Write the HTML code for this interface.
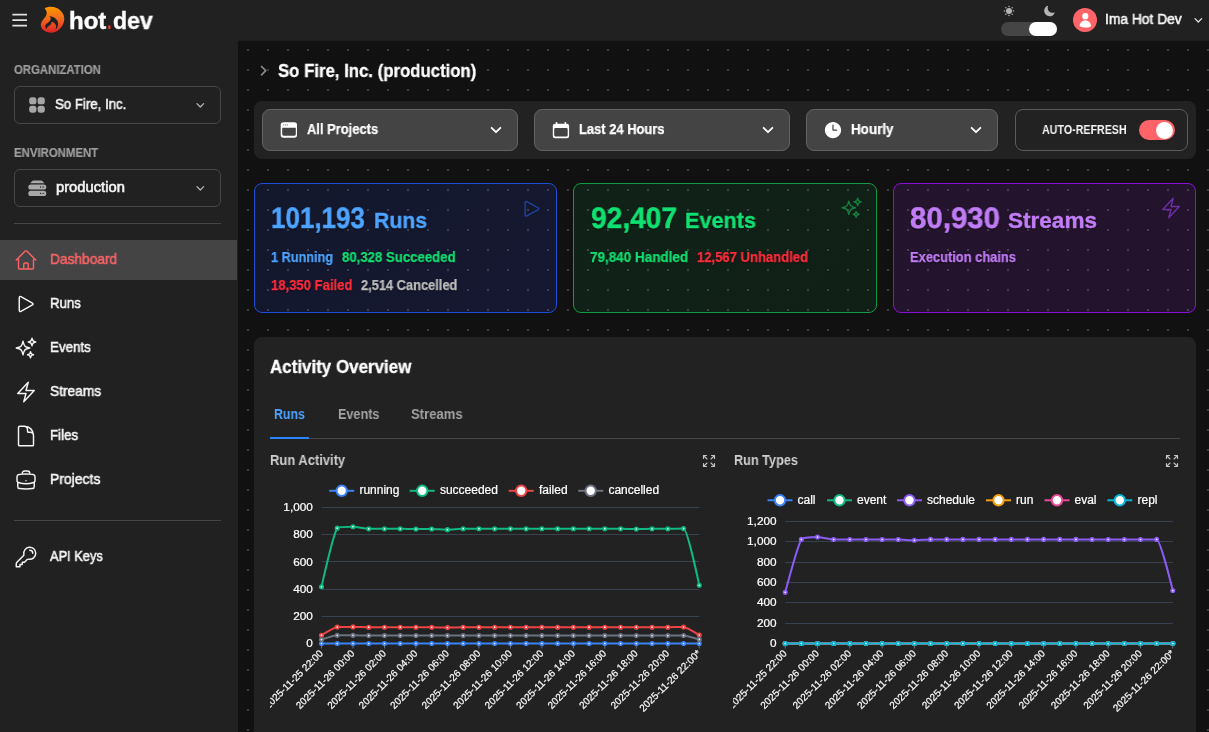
<!DOCTYPE html>
<html><head><meta charset="utf-8"><title>hot.dev</title>
<style>
html,body{margin:0;padding:0;background:#111111;}
body{width:1209px;height:732px;overflow:hidden;position:relative;font-family:"Liberation Sans",sans-serif;}
.a{position:absolute;display:block;}
.t{position:absolute;display:block;white-space:nowrap;line-height:1;transform-origin:0 0;font-weight:400;will-change:transform;}
svg text{font-family:"Liberation Sans",sans-serif;stroke:#ffffff;stroke-width:0.22px;}
</style></head><body>
<div class="a" style="left:0px;top:0px;width:1209px;height:732px;background:#111111;"></div>
<div class="a" style="left:238px;top:40px;width:971px;height:692px;background-color:#111111;background-image:radial-gradient(circle at 10px 10px,#3e3e3e 1px,rgba(62,62,62,0) 1.5px);background-size:20px 20px;"></div>
<div class="a" style="left:238px;top:40px;width:971px;height:1px;background:#1c1c1c;"></div>
<div class="a" style="left:0px;top:0px;width:1209px;height:40px;background:#212121;"></div>
<div class="a" style="left:0px;top:40px;width:238px;height:692px;background:#212121;"></div>
<svg class="a" style="left:0px;top:0px;" width="40" height="40" viewBox="0 0 40 40"><path d="M12.4 14.6H27M12.4 20.1H27M12.4 25.6H27" stroke="#e0e0e0" stroke-width="1.85" fill="none"/></svg>
<svg class="a" style="left:36px;top:2px;" width="36" height="36" viewBox="0 0 732 732"><defs><linearGradient id="fg" x1="0" y1="0" x2="0" y2="1"><stop offset="0" stop-color="#ff9800"/><stop offset="0.5" stop-color="#f2651f"/><stop offset="1" stop-color="#dc2127"/></linearGradient></defs>
<path d="M178 128 C230 95 330 85 420 120 C510 160 575 250 575 340 C575 450 500 560 400 605 C330 635 250 630 180 590 C120 555 90 500 98 445 C108 390 165 340 200 290 C225 250 225 200 195 160 C188 150 180 140 178 128 Z" fill="url(#fg)"/>
<path d="M268 290 C330 290 400 320 435 380 C465 440 445 520 398 560 C420 500 410 450 370 425 C350 410 325 405 305 410 C320 425 320 440 300 460 C275 485 235 500 212 548 C185 510 180 475 200 455 C235 425 290 395 300 345 C302 325 290 305 268 290 Z" fill="#212121"/></svg>
<span class="t" style="left:69.20px;top:10px;font-size:23.4px;color:#ffffff;font-weight:700;transform:scaleX(1.0251);-webkit-text-stroke:0.4px #ffffff;">hot</span>
<span class="t" style="left:107.30px;top:10px;font-size:23.4px;color:#ef3b2d;font-weight:700;transform:scaleX(0.7071);">.</span>
<span class="t" style="left:112.60px;top:10px;font-size:23.4px;color:#ffffff;font-weight:700;transform:scaleX(0.9871);-webkit-text-stroke:0.4px #ffffff;">dev</span>
<svg class="a" style="left:1002.5px;top:4.9px;" width="12" height="12" viewBox="0 0 12 12"><circle cx="6" cy="6" r="3.0" fill="#b4b4b4"/><circle cx="10.50" cy="6.00" r="0.8" fill="#a8a8a8"/><circle cx="9.18" cy="9.18" r="0.8" fill="#a8a8a8"/><circle cx="6.00" cy="10.50" r="0.8" fill="#a8a8a8"/><circle cx="2.82" cy="9.18" r="0.8" fill="#a8a8a8"/><circle cx="1.50" cy="6.00" r="0.8" fill="#a8a8a8"/><circle cx="2.82" cy="2.82" r="0.8" fill="#a8a8a8"/><circle cx="6.00" cy="1.50" r="0.8" fill="#a8a8a8"/><circle cx="9.18" cy="2.82" r="0.8" fill="#a8a8a8"/></svg>
<svg class="a" style="left:1043.3px;top:5.0px;" width="12.4" height="12.4" viewBox="0 0 24 24"><path d="M9.528 1.718a.75.75 0 01.162.819A8.97 8.97 0 009 6a9 9 0 009 9 8.97 8.97 0 003.463-.69.75.75 0 01.981.98 10.503 10.503 0 01-9.694 6.46c-5.799 0-10.5-4.701-10.5-10.5 0-4.368 2.667-8.112 6.46-9.694a.75.75 0 01.818.162z" fill="#b5b5b5" fill-rule="evenodd" clip-rule="evenodd"/></svg>
<div class="a" style="left:1001px;top:22px;width:56px;height:14px;background:#454545;border-radius:7px;"></div>
<div class="a" style="left:1028.6px;top:22px;width:28.4px;height:14px;background:#ffffff;border-radius:7px;"></div>
<div class="a" style="left:1073px;top:8px;width:24px;height:24px;background:#ff6568;border-radius:12px;"></div>
<svg class="a" style="left:1076.7px;top:11.5px;" width="16.6" height="16.6" viewBox="0 0 24 24"><path d="M7.5 6a4.5 4.5 0 119 0 4.5 4.5 0 01-9 0zM3.751 20.105a8.25 8.25 0 0116.498 0 .75.75 0 01-.437.695A18.683 18.683 0 0112 22.5c-2.786 0-5.433-.608-7.812-1.7a.75.75 0 01-.437-.695z" fill="#ffffff" fill-rule="evenodd" clip-rule="evenodd"/></svg>
<span class="t" style="left:1105.00px;top:12px;font-size:14px;color:#f5f5f5;transform:scaleX(0.9859);-webkit-text-stroke:0.55px #f5f5f5;">Ima Hot Dev</span>
<svg class="a" style="left:1192.5px;top:15.3px;" width="10.6" height="10.6" viewBox="0 0 24 24"><path d="M19.5 8.25l-7.5 7.5-7.5-7.5" fill="none" stroke="#e4e4e4" stroke-width="3.0" stroke-linecap="round" stroke-linejoin="round"/></svg>
<span class="t" style="left:14.30px;top:64px;font-size:12px;color:#9e9e9e;font-weight:700;transform:scaleX(0.9470);-webkit-text-stroke:0.2px #9e9e9e;">ORGANIZATION</span>
<div class="a" style="left:14px;top:86px;width:207px;height:38px;border:1px solid #474747;border-radius:6px;box-sizing:border-box;"></div>
<svg class="a" style="left:20px;top:90px;" width="40" height="30" viewBox="20 90 40 30"><rect x="29.2" y="97.3" width="7.2" height="7.0" rx="2.6" fill="#a6a6a6"/><rect x="29.2" y="105.7" width="7.2" height="7.0" rx="2.6" fill="#a6a6a6"/><rect x="37.6" y="97.3" width="7.2" height="7.0" rx="2.6" fill="#a6a6a6"/><rect x="37.6" y="105.7" width="7.2" height="7.0" rx="2.6" fill="#a6a6a6"/></svg>
<span class="t" style="left:55.00px;top:97px;font-size:14px;color:#f5f5f5;transform:scaleX(0.9460);-webkit-text-stroke:0.55px #f5f5f5;">So Fire, Inc.</span>
<svg class="a" style="left:194.75px;top:100.3px;" width="10.6" height="10.6" viewBox="0 0 24 24"><path d="M19.5 8.25l-7.5 7.5-7.5-7.5" fill="none" stroke="#b4b4b4" stroke-width="3.0" stroke-linecap="round" stroke-linejoin="round"/></svg>
<span class="t" style="left:14.30px;top:147px;font-size:12px;color:#9e9e9e;font-weight:700;transform:scaleX(0.9485);-webkit-text-stroke:0.2px #9e9e9e;">ENVIRONMENT</span>
<div class="a" style="left:14px;top:169px;width:207px;height:38px;border:1px solid #474747;border-radius:6px;box-sizing:border-box;"></div>
<svg class="a" style="left:26.7px;top:177.6px;" width="20.6" height="20.6" viewBox="0 0 24 24"><path d="M5.507 4.048A3 3 0 017.785 3h8.43a3 3 0 012.278 1.048l1.722 2.008A4.533 4.533 0 0019.5 6h-15c-.243 0-.482.02-.715.056l1.722-2.008z" fill="#a8a8a8" fill-rule="evenodd" clip-rule="evenodd"/><path d="M1.5 10.5a3 3 0 013-3h15a3 3 0 110 6h-15a3 3 0 01-3-3zm15 0a.75.75 0 11-1.5 0 .75.75 0 011.5 0zm2.25.75a.75.75 0 100-1.5.75.75 0 000 1.5zM4.5 15a3 3 0 100 6h15a3 3 0 100-6h-15zm11.25 3.75a.75.75 0 100-1.5.75.75 0 000 1.5zM19.5 18a.75.75 0 11-1.5 0 .75.75 0 011.5 0z" fill="#a8a8a8" fill-rule="evenodd" clip-rule="evenodd"/></svg>
<span class="t" style="left:55.50px;top:180px;font-size:14px;color:#f5f5f5;transform:scaleX(1.0538);-webkit-text-stroke:0.55px #f5f5f5;">production</span>
<svg class="a" style="left:194.75px;top:183.3px;" width="10.6" height="10.6" viewBox="0 0 24 24"><path d="M19.5 8.25l-7.5 7.5-7.5-7.5" fill="none" stroke="#b4b4b4" stroke-width="3.0" stroke-linecap="round" stroke-linejoin="round"/></svg>
<div class="a" style="left:14px;top:223px;width:207px;height:1px;background:#454545;"></div>
<div class="a" style="left:0px;top:240px;width:237px;height:40px;background:#444444;"></div>
<svg class="a" style="left:13.7px;top:248.0px;" width="24" height="24" viewBox="0 0 24 24"><path d="M2.25 12l8.954-8.955c.44-.439 1.152-.439 1.591 0L21.75 12M4.5 9.75v10.125c0 .621.504 1.125 1.125 1.125H9.75v-4.875c0-.621.504-1.125 1.125-1.125h2.25c.621 0 1.125.504 1.125 1.125V21h4.125c.621 0 1.125-.504 1.125-1.125V9.75M8.25 21h8.25" fill="none" stroke="#f86466" stroke-width="1.45" stroke-linecap="round" stroke-linejoin="round"/></svg>
<span class="t" style="left:50.30px;top:252px;font-size:14.5px;color:#f86466;transform:scaleX(0.9474);-webkit-text-stroke:0.55px #f86466;">Dashboard</span>
<svg class="a" style="left:13.7px;top:292.0px;" width="24" height="24" viewBox="0 0 24 24"><path d="M5.25 5.653c0-.856.917-1.398 1.667-.986l11.54 6.348a1.125 1.125 0 010 1.971l-11.54 6.347a1.125 1.125 0 01-1.667-.985V5.653z" fill="none" stroke="#f5f5f5" stroke-width="1.45" stroke-linecap="round" stroke-linejoin="round"/></svg>
<span class="t" style="left:50.30px;top:296px;font-size:14.5px;color:#f5f5f5;transform:scaleX(0.9130);-webkit-text-stroke:0.55px #f5f5f5;">Runs</span>
<svg class="a" style="left:13.7px;top:336.1px;" width="24" height="24" viewBox="0 0 24 24"><path d="M9.813 15.904L9 18.75l-.813-2.846a4.5 4.5 0 00-3.09-3.09L2.25 12l2.846-.813a4.5 4.5 0 003.09-3.09L9 5.25l.813 2.846a4.5 4.5 0 003.09 3.09L15.75 12l-2.846.813a4.5 4.5 0 00-3.09 3.09zM18.259 8.715L18 9.75l-.259-1.035a3.375 3.375 0 00-2.455-2.456L14.25 6l1.036-.259a3.375 3.375 0 002.455-2.456L18 2.25l.259 1.035a3.375 3.375 0 002.456 2.456L21.75 6l-1.035.259a3.375 3.375 0 00-2.456 2.456zM16.894 20.567L16.5 21.75l-.394-1.183a2.25 2.25 0 00-1.423-1.423L13.5 18.75l1.183-.394a2.25 2.25 0 001.423-1.423l.394-1.183.394 1.183a2.25 2.25 0 001.423 1.423l1.183.394-1.183.394a2.25 2.25 0 00-1.423 1.423z" fill="none" stroke="#f5f5f5" stroke-width="1.45" stroke-linecap="round" stroke-linejoin="round"/></svg>
<span class="t" style="left:50.30px;top:340px;font-size:14.5px;color:#f5f5f5;transform:scaleX(0.9204);-webkit-text-stroke:0.55px #f5f5f5;">Events</span>
<svg class="a" style="left:13.7px;top:380.0px;" width="24" height="24" viewBox="0 0 24 24"><path d="M3.75 13.5l10.5-11.25L12 10.5h8.25L9.75 21.75 12 13.5H3.75z" fill="none" stroke="#f5f5f5" stroke-width="1.45" stroke-linecap="round" stroke-linejoin="round"/></svg>
<span class="t" style="left:50.30px;top:384px;font-size:14.5px;color:#f5f5f5;transform:scaleX(0.9466);-webkit-text-stroke:0.55px #f5f5f5;">Streams</span>
<svg class="a" style="left:13.7px;top:424.0px;" width="24" height="24" viewBox="0 0 24 24"><path d="M19.5 14.25v-2.625a3.375 3.375 0 00-3.375-3.375h-1.5A1.125 1.125 0 0113.5 7.125v-1.5a3.375 3.375 0 00-3.375-3.375H8.25m2.25 0H5.625c-.621 0-1.125.504-1.125 1.125v17.25c0 .621.504 1.125 1.125 1.125h12.75c.621 0 1.125-.504 1.125-1.125V11.25a9 9 0 00-9-9z" fill="none" stroke="#f5f5f5" stroke-width="1.45" stroke-linecap="round" stroke-linejoin="round"/></svg>
<span class="t" style="left:50.30px;top:428px;font-size:14.5px;color:#f5f5f5;transform:scaleX(0.9213);-webkit-text-stroke:0.55px #f5f5f5;">Files</span>
<svg class="a" style="left:13.7px;top:467.8px;" width="24" height="24" viewBox="0 0 24 24"><path d="M20.25 14.15v4.25c0 1.094-.787 2.036-1.872 2.18-2.087.277-4.216.42-6.378.42s-4.291-.143-6.378-.42c-1.085-.144-1.872-1.086-1.872-2.18v-4.25m16.5 0a2.18 2.18 0 00.75-1.661V8.706c0-1.081-.768-2.015-1.837-2.175a48.114 48.114 0 00-3.413-.387m4.5 8.006c-.194.165-.42.295-.673.38A23.978 23.978 0 0112 15.75c-2.648 0-5.195-.429-7.577-1.22a2.016 2.016 0 01-.673-.38m0 0A2.18 2.18 0 013 12.489V8.706c0-1.081.768-2.015 1.837-2.175a48.111 48.111 0 013.413-.387m7.5 0V5.25A2.25 2.25 0 0013.5 3h-3a2.25 2.25 0 00-2.25 2.25v.894m7.5 0a48.667 48.667 0 00-7.5 0M12 12.75h.008v.008H12v-.008z" fill="none" stroke="#f5f5f5" stroke-width="1.45" stroke-linecap="round" stroke-linejoin="round"/></svg>
<span class="t" style="left:50.30px;top:472px;font-size:14.5px;color:#f5f5f5;transform:scaleX(0.9623);-webkit-text-stroke:0.55px #f5f5f5;">Projects</span>
<svg class="a" style="left:13.7px;top:544.8px;" width="24" height="24" viewBox="0 0 24 24"><path d="M15.75 5.25a3 3 0 013 3m3 0a6 6 0 01-7.029 5.912c-.563-.097-1.159.026-1.563.43L10.5 17.25H8.25v2.25H6v2.25H2.25v-2.818c0-.597.237-1.17.659-1.591l6.499-6.499c.404-.404.527-1 .43-1.563A6 6 0 1121.75 8.25z" fill="none" stroke="#f5f5f5" stroke-width="1.45" stroke-linecap="round" stroke-linejoin="round"/></svg>
<span class="t" style="left:50.30px;top:549px;font-size:14.5px;color:#f5f5f5;transform:scaleX(0.8837);-webkit-text-stroke:0.55px #f5f5f5;">API Keys</span>
<div class="a" style="left:14px;top:520px;width:207px;height:1px;background:#454545;"></div>
<svg class="a" style="left:257.25px;top:64.3px;" width="13.3" height="13.3" viewBox="0 0 24 24"><path d="M8.25 4.5l7.5 7.5-7.5 7.5" fill="none" stroke="#8a8a8a" stroke-width="3.0" stroke-linecap="round" stroke-linejoin="round"/></svg>
<span class="t" style="left:278.20px;top:63px;font-size:17.8px;color:#ffffff;font-weight:700;transform:scaleX(0.9424);-webkit-text-stroke:0.3px #ffffff;">So Fire, Inc. (production)</span>
<div class="a" style="left:254px;top:101px;width:942px;height:58px;background:#222222;border-radius:8px;"></div>
<div class="a" style="left:262px;top:109px;width:256px;height:42px;background:#444444;border:1px solid #636363;border-radius:8px;box-sizing:border-box;"></div>
<span class="t" style="left:307.00px;top:122px;font-size:14px;color:#ffffff;font-weight:700;transform:scaleX(0.9243);-webkit-text-stroke:0.25px #ffffff;">All Projects</span>
<svg class="a" style="left:489.4px;top:122.6px;" width="14" height="14" viewBox="0 0 24 24"><path d="M19.5 8.25l-7.5 7.5-7.5-7.5" fill="none" stroke="#ffffff" stroke-width="3.1" stroke-linecap="round" stroke-linejoin="round"/></svg>
<svg class="a" style="left:272px;top:115px;" width="40" height="30" viewBox="272 115 40 30"><path fill-rule="evenodd" fill="#fff" d="M283.3 122.3 h11.1 a2.6 2.6 0 0 1 2.6 2.6 v10.2 a2.6 2.6 0 0 1 -2.6 2.6 h-11.1 a2.6 2.6 0 0 1 -2.6 -2.6 v-10.2 a2.6 2.6 0 0 1 2.6 -2.6 z M282.2 127.8 v6.5 a1.4 1.4 0 0 0 1.4 1.4 h10.8 a1.4 1.4 0 0 0 1.4 -1.4 v-6.5 z"/><rect x="283.2" y="124.3" width="1.1" height="1.3" fill="#9a9a9a"/><rect x="284.9" y="124.3" width="1.1" height="1.3" fill="#9a9a9a"/><rect x="286.6" y="124.3" width="1.4" height="1.3" fill="#9a9a9a"/></svg>
<div class="a" style="left:534px;top:109px;width:256px;height:42px;background:#444444;border:1px solid #636363;border-radius:8px;box-sizing:border-box;"></div>
<span class="t" style="left:579.00px;top:122px;font-size:14px;color:#ffffff;font-weight:700;transform:scaleX(0.9235);-webkit-text-stroke:0.25px #ffffff;">Last 24 Hours</span>
<svg class="a" style="left:761.4px;top:122.6px;" width="14" height="14" viewBox="0 0 24 24"><path d="M19.5 8.25l-7.5 7.5-7.5-7.5" fill="none" stroke="#ffffff" stroke-width="3.1" stroke-linecap="round" stroke-linejoin="round"/></svg>
<svg class="a" style="left:545px;top:115px;" width="40" height="30" viewBox="545 115 40 30"><path fill-rule="evenodd" fill="#fff" d="M555 123.8 h11.9 a2.2 2.2 0 0 1 2.2 2.2 v10 a2.2 2.2 0 0 1 -2.2 2.2 h-11.9 a2.2 2.2 0 0 1 -2.2 -2.2 v-10 a2.2 2.2 0 0 1 2.2 -2.2 z M555.5 128.1 a1.3 1.3 0 0 0 -1.3 1.3 v5.8 a1.3 1.3 0 0 0 1.3 1.3 h10.9 a1.3 1.3 0 0 0 1.3 -1.3 v-5.8 a1.3 1.3 0 0 0 -1.3 -1.3 z"/><rect x="555.8" y="121.9" width="1.5" height="3" rx="0.7" fill="#fff"/><rect x="564.6" y="121.9" width="1.5" height="3" rx="0.7" fill="#fff"/></svg>
<div class="a" style="left:806px;top:109px;width:192px;height:42px;background:#444444;border:1px solid #636363;border-radius:8px;box-sizing:border-box;"></div>
<span class="t" style="left:851.00px;top:122px;font-size:14px;color:#ffffff;font-weight:700;transform:scaleX(0.9585);-webkit-text-stroke:0.25px #ffffff;">Hourly</span>
<svg class="a" style="left:969.4px;top:122.6px;" width="14" height="14" viewBox="0 0 24 24"><path d="M19.5 8.25l-7.5 7.5-7.5-7.5" fill="none" stroke="#ffffff" stroke-width="3.1" stroke-linecap="round" stroke-linejoin="round"/></svg>
<svg class="a" style="left:823px;top:120px;" width="20" height="20" viewBox="0 0 24 24"><path d="M12 2.25c-5.385 0-9.75 4.365-9.75 9.75s4.365 9.75 9.75 9.75 9.75-4.365 9.75-9.75S17.385 2.25 12 2.25zM12.75 6a.75.75 0 00-1.5 0v6c0 .414.336.75.75.75h4.5a.75.75 0 000-1.5h-3.75V6z" fill="#ffffff" fill-rule="evenodd" clip-rule="evenodd"/></svg>
<div class="a" style="left:1015px;top:109px;width:173px;height:42px;border:1px solid #5c5c5c;border-radius:8px;box-sizing:border-box;"></div>
<span class="t" style="left:1041.80px;top:124px;font-size:12.6px;color:#f5f5f5;font-weight:700;transform:scaleX(0.8481);">AUTO-REFRESH</span>
<div class="a" style="left:1139px;top:120px;width:36px;height:20px;background:#ff6568;border-radius:10px;"></div>
<div class="a" style="left:1156.3px;top:121.5px;width:17px;height:17px;background:#ffffff;border-radius:9px;"></div>
<div class="a" style="left:254px;top:183px;width:303px;height:130px;background:linear-gradient(135deg,rgba(35,75,255,.115),rgba(50,70,255,.135));border:1px solid #1d4ed8;border-radius:8px;box-sizing:border-box;"></div>
<div class="a" style="left:573px;top:183px;width:304px;height:130px;background:linear-gradient(135deg,rgba(10,170,75,.11),rgba(10,150,70,.11));border:1px solid #109a47;border-radius:8px;box-sizing:border-box;"></div>
<div class="a" style="left:893px;top:183px;width:303px;height:130px;background:linear-gradient(135deg,rgba(170,40,250,.12),rgba(170,30,240,.12));border:1px solid #8a0fdb;border-radius:8px;box-sizing:border-box;"></div>
<span class="t" style="left:271.00px;top:204px;font-size:29.6px;color:#4da3ff;font-weight:700;transform:scaleX(0.8775);-webkit-text-stroke:0.5px #4da3ff;text-shadow:0 1px 2px rgba(0,0,0,.6);text-rendering:geometricPrecision;">101,193</span>
<span class="t" style="left:373.80px;top:210px;font-size:22.4px;color:#4da3ff;font-weight:700;transform:scaleX(0.9500);-webkit-text-stroke:0.4px #4da3ff;text-shadow:0 1px 2px rgba(0,0,0,.6);">Runs</span>
<span class="t" style="left:271.20px;top:251px;font-size:13.8px;color:#4da3ff;font-weight:700;transform:scaleX(0.9206);-webkit-text-stroke:0.25px #4da3ff;text-shadow:0 1px 2px rgba(0,0,0,.6);">1 Running</span>
<span class="t" style="left:341.50px;top:251px;font-size:13.8px;color:#10e072;font-weight:700;transform:scaleX(0.9553);-webkit-text-stroke:0.25px #10e072;text-shadow:0 1px 2px rgba(0,0,0,.6);">80,328 Succeeded</span>
<span class="t" style="left:271.20px;top:279px;font-size:13.8px;color:#ff2d3d;font-weight:700;transform:scaleX(0.9474);-webkit-text-stroke:0.25px #ff2d3d;text-shadow:0 1px 2px rgba(0,0,0,.6);">18,350 Failed</span>
<span class="t" style="left:360.80px;top:279px;font-size:13.8px;color:#bdbdbd;font-weight:700;transform:scaleX(0.9309);-webkit-text-stroke:0.25px #bdbdbd;text-shadow:0 1px 2px rgba(0,0,0,.6);">2,514 Cancelled</span>
<svg class="a" style="left:519.8px;top:196.5px;" width="23.5" height="23.5" viewBox="0 0 24 24"><path d="M5.25 5.653c0-.856.917-1.398 1.667-.986l11.54 6.348a1.125 1.125 0 010 1.971l-11.54 6.347a1.125 1.125 0 01-1.667-.985V5.653z" fill="none" stroke="#1e47a3" stroke-width="1.35" stroke-linecap="round" stroke-linejoin="round"/></svg>
<span class="t" style="left:590.50px;top:204px;font-size:29.6px;color:#10e072;font-weight:700;transform:scaleX(0.9509);-webkit-text-stroke:0.5px #10e072;text-shadow:0 1px 2px rgba(0,0,0,.6);text-rendering:geometricPrecision;">92,407</span>
<span class="t" style="left:684.50px;top:210px;font-size:22.4px;color:#10e072;font-weight:700;transform:scaleX(0.9666);-webkit-text-stroke:0.4px #10e072;text-shadow:0 1px 2px rgba(0,0,0,.6);">Events</span>
<span class="t" style="left:590.30px;top:251px;font-size:13.8px;color:#10e072;font-weight:700;transform:scaleX(0.9773);-webkit-text-stroke:0.25px #10e072;text-shadow:0 1px 2px rgba(0,0,0,.6);">79,840 Handled</span>
<span class="t" style="left:696.50px;top:251px;font-size:13.8px;color:#ff2d3d;font-weight:700;transform:scaleX(0.9460);-webkit-text-stroke:0.25px #ff2d3d;text-shadow:0 1px 2px rgba(0,0,0,.6);">12,567 Unhandled</span>
<svg class="a" style="left:839.9px;top:196.4px;" width="23.5" height="23.5" viewBox="0 0 24 24"><path d="M9.813 15.904L9 18.75l-.813-2.846a4.5 4.5 0 00-3.09-3.09L2.25 12l2.846-.813a4.5 4.5 0 003.09-3.09L9 5.25l.813 2.846a4.5 4.5 0 003.09 3.09L15.75 12l-2.846.813a4.5 4.5 0 00-3.09 3.09zM18.259 8.715L18 9.75l-.259-1.035a3.375 3.375 0 00-2.455-2.456L14.25 6l1.036-.259a3.375 3.375 0 002.455-2.456L18 2.25l.259 1.035a3.375 3.375 0 002.456 2.456L21.75 6l-1.035.259a3.375 3.375 0 00-2.456 2.456zM16.894 20.567L16.5 21.75l-.394-1.183a2.25 2.25 0 00-1.423-1.423L13.5 18.75l1.183-.394a2.25 2.25 0 001.423-1.423l.394-1.183.394 1.183a2.25 2.25 0 001.423 1.423l1.183.394-1.183.394a2.25 2.25 0 00-1.423 1.423z" fill="none" stroke="#14813f" stroke-width="1.45" stroke-linecap="round" stroke-linejoin="round"/></svg>
<span class="t" style="left:910.20px;top:204px;font-size:29.6px;color:#c07cf5;font-weight:700;transform:scaleX(0.9940);-webkit-text-stroke:0.5px #c07cf5;text-shadow:0 1px 2px rgba(0,0,0,.6);text-rendering:geometricPrecision;">80,930</span>
<span class="t" style="left:1007.80px;top:210px;font-size:22.4px;color:#c07cf5;font-weight:700;transform:scaleX(1.0066);-webkit-text-stroke:0.4px #c07cf5;text-shadow:0 1px 2px rgba(0,0,0,.6);">Streams</span>
<span class="t" style="left:910.00px;top:251px;font-size:13.8px;color:#c07cf5;font-weight:700;transform:scaleX(0.9339);-webkit-text-stroke:0.25px #c07cf5;text-shadow:0 1px 2px rgba(0,0,0,.6);">Execution chains</span>
<svg class="a" style="left:1159.3px;top:196.2px;" width="24" height="24" viewBox="0 0 24 24"><path d="M3.75 13.5l10.5-11.25L12 10.5h8.25L9.75 21.75 12 13.5H3.75z" fill="none" stroke="#6c2fa6" stroke-width="1.4" stroke-linecap="round" stroke-linejoin="round"/></svg>
<div class="a" style="left:254px;top:337px;width:942px;height:420px;background:#222222;border-radius:8px;"></div>
<span class="t" style="left:270.30px;top:359px;font-size:17.8px;color:#ffffff;font-weight:700;transform:scaleX(0.9532);-webkit-text-stroke:0.3px #ffffff;">Activity Overview</span>
<div class="a" style="left:270px;top:438px;width:910px;height:1px;background:#474747;"></div>
<div class="a" style="left:270px;top:437px;width:39px;height:2px;background:#2685ff;"></div>
<span class="t" style="left:274.30px;top:407px;font-size:14px;color:#4da3ff;font-weight:700;transform:scaleX(0.8800);">Runs</span>
<span class="t" style="left:337.60px;top:407px;font-size:14px;color:#a3a3a3;font-weight:700;transform:scaleX(0.9018);">Events</span>
<span class="t" style="left:411.30px;top:407px;font-size:14px;color:#a3a3a3;font-weight:700;transform:scaleX(0.9338);">Streams</span>
<span class="t" style="left:270.30px;top:453px;font-size:14px;color:#cfcfcf;font-weight:700;transform:scaleX(0.9266);">Run Activity</span>
<span class="t" style="left:733.70px;top:453px;font-size:14px;color:#cfcfcf;font-weight:700;transform:scaleX(0.9060);">Run Types</span>
<svg class="a" style="left:701.1px;top:452.9px;" width="16" height="16" viewBox="0 0 24 24"><path d="M3.75 3.75v4.5m0-4.5h4.5m-4.5 0L9 9M3.75 20.25v-4.5m0 4.5h4.5m-4.5 0L9 15M20.25 3.75h-4.5m4.5 0v4.5m0-4.5L15 9m5.25 11.25h-4.5m4.5 0v-4.5m0 4.5L15 15" fill="none" stroke="#c4c4c4" stroke-width="1.7" stroke-linecap="round" stroke-linejoin="round"/></svg>
<svg class="a" style="left:1164px;top:452.9px;" width="16" height="16" viewBox="0 0 24 24"><path d="M3.75 3.75v4.5m0-4.5h4.5m-4.5 0L9 9M3.75 20.25v-4.5m0 4.5h4.5m-4.5 0L9 15M20.25 3.75h-4.5m4.5 0v4.5m0-4.5L15 9m5.25 11.25h-4.5m4.5 0v-4.5m0 4.5L15 15" fill="none" stroke="#c4c4c4" stroke-width="1.7" stroke-linecap="round" stroke-linejoin="round"/></svg>
<svg class="a" style="left:0;top:0;" width="1209" height="732" viewBox="0 0 1209 732" font-family="Liberation Sans, sans-serif"><defs><clipPath id="c1"><rect x="270" y="470" width="450" height="262"/></clipPath><clipPath id="c2"><rect x="733" y="470" width="450" height="262"/></clipPath></defs><g clip-path="url(#c1)"><line x1="321.5" x2="699.3" y1="643.5" y2="643.5" stroke="#374151" stroke-width="1"/><text x="312.9" y="647.1" text-anchor="end" font-size="11.8" fill="#ffffff">0</text><line x1="321.5" x2="699.3" y1="616.5" y2="616.5" stroke="#374151" stroke-width="1"/><text x="312.9" y="619.9" text-anchor="end" font-size="11.8" fill="#ffffff">200</text><line x1="321.5" x2="699.3" y1="589.5" y2="589.5" stroke="#374151" stroke-width="1"/><text x="312.9" y="592.7" text-anchor="end" font-size="11.8" fill="#ffffff">400</text><line x1="321.5" x2="699.3" y1="561.5" y2="561.5" stroke="#374151" stroke-width="1"/><text x="312.9" y="565.5" text-anchor="end" font-size="11.8" fill="#ffffff">600</text><line x1="321.5" x2="699.3" y1="534.5" y2="534.5" stroke="#374151" stroke-width="1"/><text x="312.9" y="538.3" text-anchor="end" font-size="11.8" fill="#ffffff">800</text><line x1="321.5" x2="699.3" y1="507.5" y2="507.5" stroke="#374151" stroke-width="1"/><text x="312.9" y="511.1" text-anchor="end" font-size="11.8" fill="#ffffff">1,000</text><line x1="321.5" x2="321.5" y1="643.5" y2="648.5" stroke="#6b7280" stroke-width="1"/><text transform="translate(323.7,654.1) rotate(-45)" text-anchor="end" font-size="10" fill="#f3f4f6">2025-11-25 22:00</text><line x1="353.0" x2="353.0" y1="643.5" y2="648.5" stroke="#6b7280" stroke-width="1"/><text transform="translate(355.2,654.1) rotate(-45)" text-anchor="end" font-size="10" fill="#f3f4f6">2025-11-26 00:00</text><line x1="384.5" x2="384.5" y1="643.5" y2="648.5" stroke="#6b7280" stroke-width="1"/><text transform="translate(386.7,654.1) rotate(-45)" text-anchor="end" font-size="10" fill="#f3f4f6">2025-11-26 02:00</text><line x1="415.9" x2="415.9" y1="643.5" y2="648.5" stroke="#6b7280" stroke-width="1"/><text transform="translate(418.1,654.1) rotate(-45)" text-anchor="end" font-size="10" fill="#f3f4f6">2025-11-26 04:00</text><line x1="447.4" x2="447.4" y1="643.5" y2="648.5" stroke="#6b7280" stroke-width="1"/><text transform="translate(449.6,654.1) rotate(-45)" text-anchor="end" font-size="10" fill="#f3f4f6">2025-11-26 06:00</text><line x1="478.9" x2="478.9" y1="643.5" y2="648.5" stroke="#6b7280" stroke-width="1"/><text transform="translate(481.1,654.1) rotate(-45)" text-anchor="end" font-size="10" fill="#f3f4f6">2025-11-26 08:00</text><line x1="510.4" x2="510.4" y1="643.5" y2="648.5" stroke="#6b7280" stroke-width="1"/><text transform="translate(512.6,654.1) rotate(-45)" text-anchor="end" font-size="10" fill="#f3f4f6">2025-11-26 10:00</text><line x1="541.9" x2="541.9" y1="643.5" y2="648.5" stroke="#6b7280" stroke-width="1"/><text transform="translate(544.1,654.1) rotate(-45)" text-anchor="end" font-size="10" fill="#f3f4f6">2025-11-26 12:00</text><line x1="573.4" x2="573.4" y1="643.5" y2="648.5" stroke="#6b7280" stroke-width="1"/><text transform="translate(575.6,654.1) rotate(-45)" text-anchor="end" font-size="10" fill="#f3f4f6">2025-11-26 14:00</text><line x1="604.8" x2="604.8" y1="643.5" y2="648.5" stroke="#6b7280" stroke-width="1"/><text transform="translate(607.0,654.1) rotate(-45)" text-anchor="end" font-size="10" fill="#f3f4f6">2025-11-26 16:00</text><line x1="636.3" x2="636.3" y1="643.5" y2="648.5" stroke="#6b7280" stroke-width="1"/><text transform="translate(638.5,654.1) rotate(-45)" text-anchor="end" font-size="10" fill="#f3f4f6">2025-11-26 18:00</text><line x1="667.8" x2="667.8" y1="643.5" y2="648.5" stroke="#6b7280" stroke-width="1"/><text transform="translate(670.0,654.1) rotate(-45)" text-anchor="end" font-size="10" fill="#f3f4f6">2025-11-26 20:00</text><line x1="699.3" x2="699.3" y1="643.5" y2="648.5" stroke="#6b7280" stroke-width="1"/><text transform="translate(701.5,654.1) rotate(-45)" text-anchor="end" font-size="10" fill="#f3f4f6">2025-11-26 22:00*</text><path d="M321.50 643.50 C321.50 643.50 334.88 643.50 337.24 643.50 C339.60 643.50 350.62 643.50 352.98 643.50 C355.34 643.50 366.36 643.50 368.73 643.50 C371.09 643.50 382.11 643.50 384.47 643.50 C386.83 643.50 397.85 643.50 400.21 643.50 C402.57 643.50 413.59 643.50 415.95 643.50 C418.31 643.50 429.33 643.50 431.69 643.50 C434.05 643.50 445.07 643.50 447.43 643.50 C449.79 643.50 460.81 643.50 463.17 643.50 C465.54 643.50 476.56 643.50 478.92 643.50 C481.28 643.50 492.30 643.50 494.66 643.50 C497.02 643.50 508.04 643.50 510.40 643.50 C512.76 643.50 523.78 643.50 526.14 643.50 C528.50 643.50 539.52 643.50 541.88 643.50 C544.24 643.50 555.26 643.50 557.62 643.50 C559.99 643.50 571.01 643.50 573.37 643.50 C575.73 643.50 586.75 643.50 589.11 643.50 C591.47 643.50 602.49 643.50 604.85 643.50 C607.21 643.50 618.23 643.50 620.59 643.50 C622.95 643.50 633.97 643.50 636.33 643.50 C638.69 643.50 649.71 643.50 652.08 643.50 C654.44 643.50 665.46 643.50 667.82 643.50 C670.18 643.50 681.20 643.50 683.56 643.50 C685.92 643.50 699.30 643.50 699.30 643.50" fill="none" stroke="#3b82f6" stroke-width="2" stroke-linejoin="round"/><circle cx="321.50" cy="643.50" r="1.7" fill="#f1f5f9" stroke="#3b82f6" stroke-width="1.7"/><circle cx="337.24" cy="643.50" r="1.7" fill="#f1f5f9" stroke="#3b82f6" stroke-width="1.7"/><circle cx="352.98" cy="643.50" r="1.7" fill="#f1f5f9" stroke="#3b82f6" stroke-width="1.7"/><circle cx="368.73" cy="643.50" r="1.7" fill="#f1f5f9" stroke="#3b82f6" stroke-width="1.7"/><circle cx="384.47" cy="643.50" r="1.7" fill="#f1f5f9" stroke="#3b82f6" stroke-width="1.7"/><circle cx="400.21" cy="643.50" r="1.7" fill="#f1f5f9" stroke="#3b82f6" stroke-width="1.7"/><circle cx="415.95" cy="643.50" r="1.7" fill="#f1f5f9" stroke="#3b82f6" stroke-width="1.7"/><circle cx="431.69" cy="643.50" r="1.7" fill="#f1f5f9" stroke="#3b82f6" stroke-width="1.7"/><circle cx="447.43" cy="643.50" r="1.7" fill="#f1f5f9" stroke="#3b82f6" stroke-width="1.7"/><circle cx="463.17" cy="643.50" r="1.7" fill="#f1f5f9" stroke="#3b82f6" stroke-width="1.7"/><circle cx="478.92" cy="643.50" r="1.7" fill="#f1f5f9" stroke="#3b82f6" stroke-width="1.7"/><circle cx="494.66" cy="643.50" r="1.7" fill="#f1f5f9" stroke="#3b82f6" stroke-width="1.7"/><circle cx="510.40" cy="643.50" r="1.7" fill="#f1f5f9" stroke="#3b82f6" stroke-width="1.7"/><circle cx="526.14" cy="643.50" r="1.7" fill="#f1f5f9" stroke="#3b82f6" stroke-width="1.7"/><circle cx="541.88" cy="643.50" r="1.7" fill="#f1f5f9" stroke="#3b82f6" stroke-width="1.7"/><circle cx="557.62" cy="643.50" r="1.7" fill="#f1f5f9" stroke="#3b82f6" stroke-width="1.7"/><circle cx="573.37" cy="643.50" r="1.7" fill="#f1f5f9" stroke="#3b82f6" stroke-width="1.7"/><circle cx="589.11" cy="643.50" r="1.7" fill="#f1f5f9" stroke="#3b82f6" stroke-width="1.7"/><circle cx="604.85" cy="643.50" r="1.7" fill="#f1f5f9" stroke="#3b82f6" stroke-width="1.7"/><circle cx="620.59" cy="643.50" r="1.7" fill="#f1f5f9" stroke="#3b82f6" stroke-width="1.7"/><circle cx="636.33" cy="643.50" r="1.7" fill="#f1f5f9" stroke="#3b82f6" stroke-width="1.7"/><circle cx="652.08" cy="643.50" r="1.7" fill="#f1f5f9" stroke="#3b82f6" stroke-width="1.7"/><circle cx="667.82" cy="643.50" r="1.7" fill="#f1f5f9" stroke="#3b82f6" stroke-width="1.7"/><circle cx="683.56" cy="643.50" r="1.7" fill="#f1f5f9" stroke="#3b82f6" stroke-width="1.7"/><circle cx="699.30" cy="643.50" r="1.7" fill="#f1f5f9" stroke="#3b82f6" stroke-width="1.7"/><path d="M321.50 586.79 C321.50 586.79 333.50 533.91 337.24 528.17 C338.22 526.68 350.63 526.68 352.98 526.68 C355.35 526.68 366.35 528.85 368.73 528.85 C371.08 528.85 382.11 528.85 384.47 528.85 C386.83 528.85 397.85 528.85 400.21 528.85 C402.57 528.85 413.59 528.99 415.95 528.99 C418.31 528.99 429.33 528.99 431.69 528.99 C434.05 528.99 445.07 529.67 447.43 529.67 C449.80 529.67 460.81 528.72 463.17 528.72 C465.53 528.72 476.56 528.72 478.92 528.72 C481.28 528.72 492.30 528.85 494.66 528.85 C497.02 528.85 508.04 528.85 510.40 528.85 C512.76 528.85 523.78 528.85 526.14 528.85 C528.50 528.85 539.52 528.72 541.88 528.72 C544.24 528.72 555.26 528.72 557.62 528.72 C559.99 528.72 571.01 528.72 573.37 528.72 C575.73 528.72 586.75 528.72 589.11 528.72 C591.47 528.72 602.49 528.72 604.85 528.72 C607.21 528.72 618.23 528.83 620.59 528.85 C622.95 528.87 633.97 528.99 636.33 528.99 C638.69 528.99 649.71 528.85 652.08 528.85 C654.44 528.85 665.46 528.85 667.82 528.85 C670.18 528.85 682.56 528.58 683.56 528.58 C687.28 528.58 699.30 585.29 699.30 585.29" fill="none" stroke="#10b981" stroke-width="2" stroke-linejoin="round"/><circle cx="321.50" cy="586.79" r="1.7" fill="#f1f5f9" stroke="#10b981" stroke-width="1.7"/><circle cx="337.24" cy="528.17" r="1.7" fill="#f1f5f9" stroke="#10b981" stroke-width="1.7"/><circle cx="352.98" cy="526.68" r="1.7" fill="#f1f5f9" stroke="#10b981" stroke-width="1.7"/><circle cx="368.73" cy="528.85" r="1.7" fill="#f1f5f9" stroke="#10b981" stroke-width="1.7"/><circle cx="384.47" cy="528.85" r="1.7" fill="#f1f5f9" stroke="#10b981" stroke-width="1.7"/><circle cx="400.21" cy="528.85" r="1.7" fill="#f1f5f9" stroke="#10b981" stroke-width="1.7"/><circle cx="415.95" cy="528.99" r="1.7" fill="#f1f5f9" stroke="#10b981" stroke-width="1.7"/><circle cx="431.69" cy="528.99" r="1.7" fill="#f1f5f9" stroke="#10b981" stroke-width="1.7"/><circle cx="447.43" cy="529.67" r="1.7" fill="#f1f5f9" stroke="#10b981" stroke-width="1.7"/><circle cx="463.17" cy="528.72" r="1.7" fill="#f1f5f9" stroke="#10b981" stroke-width="1.7"/><circle cx="478.92" cy="528.72" r="1.7" fill="#f1f5f9" stroke="#10b981" stroke-width="1.7"/><circle cx="494.66" cy="528.85" r="1.7" fill="#f1f5f9" stroke="#10b981" stroke-width="1.7"/><circle cx="510.40" cy="528.85" r="1.7" fill="#f1f5f9" stroke="#10b981" stroke-width="1.7"/><circle cx="526.14" cy="528.85" r="1.7" fill="#f1f5f9" stroke="#10b981" stroke-width="1.7"/><circle cx="541.88" cy="528.72" r="1.7" fill="#f1f5f9" stroke="#10b981" stroke-width="1.7"/><circle cx="557.62" cy="528.72" r="1.7" fill="#f1f5f9" stroke="#10b981" stroke-width="1.7"/><circle cx="573.37" cy="528.72" r="1.7" fill="#f1f5f9" stroke="#10b981" stroke-width="1.7"/><circle cx="589.11" cy="528.72" r="1.7" fill="#f1f5f9" stroke="#10b981" stroke-width="1.7"/><circle cx="604.85" cy="528.72" r="1.7" fill="#f1f5f9" stroke="#10b981" stroke-width="1.7"/><circle cx="620.59" cy="528.85" r="1.7" fill="#f1f5f9" stroke="#10b981" stroke-width="1.7"/><circle cx="636.33" cy="528.99" r="1.7" fill="#f1f5f9" stroke="#10b981" stroke-width="1.7"/><circle cx="652.08" cy="528.85" r="1.7" fill="#f1f5f9" stroke="#10b981" stroke-width="1.7"/><circle cx="667.82" cy="528.85" r="1.7" fill="#f1f5f9" stroke="#10b981" stroke-width="1.7"/><circle cx="683.56" cy="528.58" r="1.7" fill="#f1f5f9" stroke="#10b981" stroke-width="1.7"/><circle cx="699.30" cy="585.29" r="1.7" fill="#f1f5f9" stroke="#10b981" stroke-width="1.7"/><path d="M321.50 635.20 C321.50 635.20 334.74 627.20 337.24 627.04 C339.46 626.91 350.62 626.91 352.98 626.91 C355.34 626.91 366.36 627.18 368.73 627.18 C371.09 627.18 382.11 627.18 384.47 627.18 C386.83 627.18 397.85 627.18 400.21 627.18 C402.57 627.18 413.59 627.18 415.95 627.18 C418.31 627.18 429.33 627.29 431.69 627.32 C434.05 627.35 445.07 627.59 447.43 627.59 C449.79 627.59 460.81 627.18 463.17 627.18 C465.54 627.18 476.56 627.18 478.92 627.18 C481.28 627.18 492.30 627.18 494.66 627.18 C497.02 627.18 508.04 627.18 510.40 627.18 C512.76 627.18 523.78 627.18 526.14 627.18 C528.50 627.18 539.52 627.18 541.88 627.18 C544.24 627.18 555.26 627.18 557.62 627.18 C559.99 627.18 571.01 627.18 573.37 627.18 C575.73 627.18 586.75 627.18 589.11 627.18 C591.47 627.18 602.49 627.18 604.85 627.18 C607.21 627.18 618.23 627.18 620.59 627.18 C622.95 627.18 633.97 627.18 636.33 627.18 C638.69 627.18 649.71 627.18 652.08 627.18 C654.44 627.18 665.46 627.18 667.82 627.18 C670.18 627.18 681.33 627.04 683.56 627.04 C686.06 627.04 699.30 635.07 699.30 635.07" fill="none" stroke="#ef4444" stroke-width="2" stroke-linejoin="round"/><circle cx="321.50" cy="635.20" r="1.7" fill="#f1f5f9" stroke="#ef4444" stroke-width="1.7"/><circle cx="337.24" cy="627.04" r="1.7" fill="#f1f5f9" stroke="#ef4444" stroke-width="1.7"/><circle cx="352.98" cy="626.91" r="1.7" fill="#f1f5f9" stroke="#ef4444" stroke-width="1.7"/><circle cx="368.73" cy="627.18" r="1.7" fill="#f1f5f9" stroke="#ef4444" stroke-width="1.7"/><circle cx="384.47" cy="627.18" r="1.7" fill="#f1f5f9" stroke="#ef4444" stroke-width="1.7"/><circle cx="400.21" cy="627.18" r="1.7" fill="#f1f5f9" stroke="#ef4444" stroke-width="1.7"/><circle cx="415.95" cy="627.18" r="1.7" fill="#f1f5f9" stroke="#ef4444" stroke-width="1.7"/><circle cx="431.69" cy="627.32" r="1.7" fill="#f1f5f9" stroke="#ef4444" stroke-width="1.7"/><circle cx="447.43" cy="627.59" r="1.7" fill="#f1f5f9" stroke="#ef4444" stroke-width="1.7"/><circle cx="463.17" cy="627.18" r="1.7" fill="#f1f5f9" stroke="#ef4444" stroke-width="1.7"/><circle cx="478.92" cy="627.18" r="1.7" fill="#f1f5f9" stroke="#ef4444" stroke-width="1.7"/><circle cx="494.66" cy="627.18" r="1.7" fill="#f1f5f9" stroke="#ef4444" stroke-width="1.7"/><circle cx="510.40" cy="627.18" r="1.7" fill="#f1f5f9" stroke="#ef4444" stroke-width="1.7"/><circle cx="526.14" cy="627.18" r="1.7" fill="#f1f5f9" stroke="#ef4444" stroke-width="1.7"/><circle cx="541.88" cy="627.18" r="1.7" fill="#f1f5f9" stroke="#ef4444" stroke-width="1.7"/><circle cx="557.62" cy="627.18" r="1.7" fill="#f1f5f9" stroke="#ef4444" stroke-width="1.7"/><circle cx="573.37" cy="627.18" r="1.7" fill="#f1f5f9" stroke="#ef4444" stroke-width="1.7"/><circle cx="589.11" cy="627.18" r="1.7" fill="#f1f5f9" stroke="#ef4444" stroke-width="1.7"/><circle cx="604.85" cy="627.18" r="1.7" fill="#f1f5f9" stroke="#ef4444" stroke-width="1.7"/><circle cx="620.59" cy="627.18" r="1.7" fill="#f1f5f9" stroke="#ef4444" stroke-width="1.7"/><circle cx="636.33" cy="627.18" r="1.7" fill="#f1f5f9" stroke="#ef4444" stroke-width="1.7"/><circle cx="652.08" cy="627.18" r="1.7" fill="#f1f5f9" stroke="#ef4444" stroke-width="1.7"/><circle cx="667.82" cy="627.18" r="1.7" fill="#f1f5f9" stroke="#ef4444" stroke-width="1.7"/><circle cx="683.56" cy="627.04" r="1.7" fill="#f1f5f9" stroke="#ef4444" stroke-width="1.7"/><circle cx="699.30" cy="635.07" r="1.7" fill="#f1f5f9" stroke="#ef4444" stroke-width="1.7"/><path d="M321.50 639.56 C321.50 639.56 334.84 635.34 337.24 635.34 C339.56 635.34 350.62 635.34 352.98 635.34 C355.34 635.34 366.36 635.61 368.73 635.61 C371.09 635.61 382.11 635.61 384.47 635.61 C386.83 635.61 397.85 635.61 400.21 635.61 C402.57 635.61 413.59 635.61 415.95 635.61 C418.31 635.61 429.33 635.61 431.69 635.61 C434.05 635.61 445.07 635.61 447.43 635.61 C449.79 635.61 460.81 635.61 463.17 635.61 C465.54 635.61 476.56 635.61 478.92 635.61 C481.28 635.61 492.30 635.61 494.66 635.61 C497.02 635.61 508.04 635.61 510.40 635.61 C512.76 635.61 523.78 635.61 526.14 635.61 C528.50 635.61 539.52 635.61 541.88 635.61 C544.24 635.61 555.26 635.61 557.62 635.61 C559.99 635.61 571.01 635.61 573.37 635.61 C575.73 635.61 586.75 635.61 589.11 635.61 C591.47 635.61 602.49 635.61 604.85 635.61 C607.21 635.61 618.23 635.61 620.59 635.61 C622.95 635.61 633.97 635.61 636.33 635.61 C638.69 635.61 649.71 635.61 652.08 635.61 C654.44 635.61 665.46 635.61 667.82 635.61 C670.18 635.61 681.23 635.48 683.56 635.48 C685.96 635.48 699.30 639.42 699.30 639.42" fill="none" stroke="#6b7280" stroke-width="2" stroke-linejoin="round"/><circle cx="321.50" cy="639.56" r="1.7" fill="#f1f5f9" stroke="#6b7280" stroke-width="1.7"/><circle cx="337.24" cy="635.34" r="1.7" fill="#f1f5f9" stroke="#6b7280" stroke-width="1.7"/><circle cx="352.98" cy="635.34" r="1.7" fill="#f1f5f9" stroke="#6b7280" stroke-width="1.7"/><circle cx="368.73" cy="635.61" r="1.7" fill="#f1f5f9" stroke="#6b7280" stroke-width="1.7"/><circle cx="384.47" cy="635.61" r="1.7" fill="#f1f5f9" stroke="#6b7280" stroke-width="1.7"/><circle cx="400.21" cy="635.61" r="1.7" fill="#f1f5f9" stroke="#6b7280" stroke-width="1.7"/><circle cx="415.95" cy="635.61" r="1.7" fill="#f1f5f9" stroke="#6b7280" stroke-width="1.7"/><circle cx="431.69" cy="635.61" r="1.7" fill="#f1f5f9" stroke="#6b7280" stroke-width="1.7"/><circle cx="447.43" cy="635.61" r="1.7" fill="#f1f5f9" stroke="#6b7280" stroke-width="1.7"/><circle cx="463.17" cy="635.61" r="1.7" fill="#f1f5f9" stroke="#6b7280" stroke-width="1.7"/><circle cx="478.92" cy="635.61" r="1.7" fill="#f1f5f9" stroke="#6b7280" stroke-width="1.7"/><circle cx="494.66" cy="635.61" r="1.7" fill="#f1f5f9" stroke="#6b7280" stroke-width="1.7"/><circle cx="510.40" cy="635.61" r="1.7" fill="#f1f5f9" stroke="#6b7280" stroke-width="1.7"/><circle cx="526.14" cy="635.61" r="1.7" fill="#f1f5f9" stroke="#6b7280" stroke-width="1.7"/><circle cx="541.88" cy="635.61" r="1.7" fill="#f1f5f9" stroke="#6b7280" stroke-width="1.7"/><circle cx="557.62" cy="635.61" r="1.7" fill="#f1f5f9" stroke="#6b7280" stroke-width="1.7"/><circle cx="573.37" cy="635.61" r="1.7" fill="#f1f5f9" stroke="#6b7280" stroke-width="1.7"/><circle cx="589.11" cy="635.61" r="1.7" fill="#f1f5f9" stroke="#6b7280" stroke-width="1.7"/><circle cx="604.85" cy="635.61" r="1.7" fill="#f1f5f9" stroke="#6b7280" stroke-width="1.7"/><circle cx="620.59" cy="635.61" r="1.7" fill="#f1f5f9" stroke="#6b7280" stroke-width="1.7"/><circle cx="636.33" cy="635.61" r="1.7" fill="#f1f5f9" stroke="#6b7280" stroke-width="1.7"/><circle cx="652.08" cy="635.61" r="1.7" fill="#f1f5f9" stroke="#6b7280" stroke-width="1.7"/><circle cx="667.82" cy="635.61" r="1.7" fill="#f1f5f9" stroke="#6b7280" stroke-width="1.7"/><circle cx="683.56" cy="635.48" r="1.7" fill="#f1f5f9" stroke="#6b7280" stroke-width="1.7"/><circle cx="699.30" cy="639.42" r="1.7" fill="#f1f5f9" stroke="#6b7280" stroke-width="1.7"/><line x1="329.2" x2="354.2" y1="490.8" y2="490.8" stroke="#3b82f6" stroke-width="2"/><circle cx="341.7" cy="490.8" r="5.2" fill="#ffffff" stroke="#3b82f6" stroke-width="2"/><text x="359.4" y="494.1" font-size="12" fill="#ffffff">running</text><line x1="409.7" x2="434.7" y1="490.8" y2="490.8" stroke="#10b981" stroke-width="2"/><circle cx="422.2" cy="490.8" r="5.2" fill="#ffffff" stroke="#10b981" stroke-width="2"/><text x="439.9" y="494.1" font-size="12" fill="#ffffff">succeeded</text><line x1="508.7" x2="533.7" y1="490.8" y2="490.8" stroke="#ef4444" stroke-width="2"/><circle cx="521.2" cy="490.8" r="5.2" fill="#ffffff" stroke="#ef4444" stroke-width="2"/><text x="538.9" y="494.1" font-size="12" fill="#ffffff">failed</text><line x1="578.2" x2="603.2" y1="490.8" y2="490.8" stroke="#6b7280" stroke-width="2"/><circle cx="590.7" cy="490.8" r="5.2" fill="#ffffff" stroke="#6b7280" stroke-width="2"/><text x="608.4" y="494.1" font-size="12" fill="#ffffff">cancelled</text></g><g clip-path="url(#c2)"><line x1="785.2" x2="1172.8" y1="643.5" y2="643.5" stroke="#374151" stroke-width="1"/><text x="776.6" y="647.1" text-anchor="end" font-size="11.8" fill="#ffffff">0</text><line x1="785.2" x2="1172.8" y1="623.5" y2="623.5" stroke="#374151" stroke-width="1"/><text x="776.6" y="626.8" text-anchor="end" font-size="11.8" fill="#ffffff">200</text><line x1="785.2" x2="1172.8" y1="602.5" y2="602.5" stroke="#374151" stroke-width="1"/><text x="776.6" y="606.4" text-anchor="end" font-size="11.8" fill="#ffffff">400</text><line x1="785.2" x2="1172.8" y1="582.5" y2="582.5" stroke="#374151" stroke-width="1"/><text x="776.6" y="586.1" text-anchor="end" font-size="11.8" fill="#ffffff">600</text><line x1="785.2" x2="1172.8" y1="562.5" y2="562.5" stroke="#374151" stroke-width="1"/><text x="776.6" y="565.8" text-anchor="end" font-size="11.8" fill="#ffffff">800</text><line x1="785.2" x2="1172.8" y1="541.5" y2="541.5" stroke="#374151" stroke-width="1"/><text x="776.6" y="545.4" text-anchor="end" font-size="11.8" fill="#ffffff">1,000</text><line x1="785.2" x2="1172.8" y1="521.5" y2="521.5" stroke="#374151" stroke-width="1"/><text x="776.6" y="525.1" text-anchor="end" font-size="11.8" fill="#ffffff">1,200</text><line x1="785.2" x2="785.2" y1="643.5" y2="648.5" stroke="#6b7280" stroke-width="1"/><text transform="translate(787.4,654.1) rotate(-45)" text-anchor="end" font-size="10" fill="#f3f4f6">2025-11-25 22:00</text><line x1="817.5" x2="817.5" y1="643.5" y2="648.5" stroke="#6b7280" stroke-width="1"/><text transform="translate(819.7,654.1) rotate(-45)" text-anchor="end" font-size="10" fill="#f3f4f6">2025-11-26 00:00</text><line x1="849.8" x2="849.8" y1="643.5" y2="648.5" stroke="#6b7280" stroke-width="1"/><text transform="translate(852.0,654.1) rotate(-45)" text-anchor="end" font-size="10" fill="#f3f4f6">2025-11-26 02:00</text><line x1="882.1" x2="882.1" y1="643.5" y2="648.5" stroke="#6b7280" stroke-width="1"/><text transform="translate(884.3,654.1) rotate(-45)" text-anchor="end" font-size="10" fill="#f3f4f6">2025-11-26 04:00</text><line x1="914.4" x2="914.4" y1="643.5" y2="648.5" stroke="#6b7280" stroke-width="1"/><text transform="translate(916.6,654.1) rotate(-45)" text-anchor="end" font-size="10" fill="#f3f4f6">2025-11-26 06:00</text><line x1="946.7" x2="946.7" y1="643.5" y2="648.5" stroke="#6b7280" stroke-width="1"/><text transform="translate(948.9,654.1) rotate(-45)" text-anchor="end" font-size="10" fill="#f3f4f6">2025-11-26 08:00</text><line x1="979.0" x2="979.0" y1="643.5" y2="648.5" stroke="#6b7280" stroke-width="1"/><text transform="translate(981.2,654.1) rotate(-45)" text-anchor="end" font-size="10" fill="#f3f4f6">2025-11-26 10:00</text><line x1="1011.3" x2="1011.3" y1="643.5" y2="648.5" stroke="#6b7280" stroke-width="1"/><text transform="translate(1013.5,654.1) rotate(-45)" text-anchor="end" font-size="10" fill="#f3f4f6">2025-11-26 12:00</text><line x1="1043.6" x2="1043.6" y1="643.5" y2="648.5" stroke="#6b7280" stroke-width="1"/><text transform="translate(1045.8,654.1) rotate(-45)" text-anchor="end" font-size="10" fill="#f3f4f6">2025-11-26 14:00</text><line x1="1075.9" x2="1075.9" y1="643.5" y2="648.5" stroke="#6b7280" stroke-width="1"/><text transform="translate(1078.1,654.1) rotate(-45)" text-anchor="end" font-size="10" fill="#f3f4f6">2025-11-26 16:00</text><line x1="1108.2" x2="1108.2" y1="643.5" y2="648.5" stroke="#6b7280" stroke-width="1"/><text transform="translate(1110.4,654.1) rotate(-45)" text-anchor="end" font-size="10" fill="#f3f4f6">2025-11-26 18:00</text><line x1="1140.5" x2="1140.5" y1="643.5" y2="648.5" stroke="#6b7280" stroke-width="1"/><text transform="translate(1142.7,654.1) rotate(-45)" text-anchor="end" font-size="10" fill="#f3f4f6">2025-11-26 20:00</text><line x1="1172.8" x2="1172.8" y1="643.5" y2="648.5" stroke="#6b7280" stroke-width="1"/><text transform="translate(1175.0,654.1) rotate(-45)" text-anchor="end" font-size="10" fill="#f3f4f6">2025-11-26 22:00*</text><path d="M785.20 643.50 C785.20 643.50 798.93 643.50 801.35 643.50 C803.77 643.50 815.08 643.50 817.50 643.50 C819.92 643.50 831.23 643.50 833.65 643.50 C836.07 643.50 847.38 643.50 849.80 643.50 C852.22 643.50 863.53 643.50 865.95 643.50 C868.37 643.50 879.68 643.50 882.10 643.50 C884.52 643.50 895.83 643.50 898.25 643.50 C900.67 643.50 911.98 643.50 914.40 643.50 C916.82 643.50 928.13 643.50 930.55 643.50 C932.97 643.50 944.28 643.50 946.70 643.50 C949.12 643.50 960.43 643.50 962.85 643.50 C965.27 643.50 976.58 643.50 979.00 643.50 C981.42 643.50 992.73 643.50 995.15 643.50 C997.57 643.50 1008.88 643.50 1011.30 643.50 C1013.72 643.50 1025.03 643.50 1027.45 643.50 C1029.87 643.50 1041.18 643.50 1043.60 643.50 C1046.02 643.50 1057.33 643.50 1059.75 643.50 C1062.17 643.50 1073.48 643.50 1075.90 643.50 C1078.32 643.50 1089.63 643.50 1092.05 643.50 C1094.47 643.50 1105.78 643.50 1108.20 643.50 C1110.62 643.50 1121.93 643.50 1124.35 643.50 C1126.77 643.50 1138.08 643.50 1140.50 643.50 C1142.92 643.50 1154.23 643.50 1156.65 643.50 C1159.07 643.50 1172.80 643.50 1172.80 643.50" fill="none" stroke="#3b82f6" stroke-width="2" stroke-linejoin="round"/><circle cx="785.20" cy="643.50" r="1.7" fill="#f1f5f9" stroke="#3b82f6" stroke-width="1.7"/><circle cx="801.35" cy="643.50" r="1.7" fill="#f1f5f9" stroke="#3b82f6" stroke-width="1.7"/><circle cx="817.50" cy="643.50" r="1.7" fill="#f1f5f9" stroke="#3b82f6" stroke-width="1.7"/><circle cx="833.65" cy="643.50" r="1.7" fill="#f1f5f9" stroke="#3b82f6" stroke-width="1.7"/><circle cx="849.80" cy="643.50" r="1.7" fill="#f1f5f9" stroke="#3b82f6" stroke-width="1.7"/><circle cx="865.95" cy="643.50" r="1.7" fill="#f1f5f9" stroke="#3b82f6" stroke-width="1.7"/><circle cx="882.10" cy="643.50" r="1.7" fill="#f1f5f9" stroke="#3b82f6" stroke-width="1.7"/><circle cx="898.25" cy="643.50" r="1.7" fill="#f1f5f9" stroke="#3b82f6" stroke-width="1.7"/><circle cx="914.40" cy="643.50" r="1.7" fill="#f1f5f9" stroke="#3b82f6" stroke-width="1.7"/><circle cx="930.55" cy="643.50" r="1.7" fill="#f1f5f9" stroke="#3b82f6" stroke-width="1.7"/><circle cx="946.70" cy="643.50" r="1.7" fill="#f1f5f9" stroke="#3b82f6" stroke-width="1.7"/><circle cx="962.85" cy="643.50" r="1.7" fill="#f1f5f9" stroke="#3b82f6" stroke-width="1.7"/><circle cx="979.00" cy="643.50" r="1.7" fill="#f1f5f9" stroke="#3b82f6" stroke-width="1.7"/><circle cx="995.15" cy="643.50" r="1.7" fill="#f1f5f9" stroke="#3b82f6" stroke-width="1.7"/><circle cx="1011.30" cy="643.50" r="1.7" fill="#f1f5f9" stroke="#3b82f6" stroke-width="1.7"/><circle cx="1027.45" cy="643.50" r="1.7" fill="#f1f5f9" stroke="#3b82f6" stroke-width="1.7"/><circle cx="1043.60" cy="643.50" r="1.7" fill="#f1f5f9" stroke="#3b82f6" stroke-width="1.7"/><circle cx="1059.75" cy="643.50" r="1.7" fill="#f1f5f9" stroke="#3b82f6" stroke-width="1.7"/><circle cx="1075.90" cy="643.50" r="1.7" fill="#f1f5f9" stroke="#3b82f6" stroke-width="1.7"/><circle cx="1092.05" cy="643.50" r="1.7" fill="#f1f5f9" stroke="#3b82f6" stroke-width="1.7"/><circle cx="1108.20" cy="643.50" r="1.7" fill="#f1f5f9" stroke="#3b82f6" stroke-width="1.7"/><circle cx="1124.35" cy="643.50" r="1.7" fill="#f1f5f9" stroke="#3b82f6" stroke-width="1.7"/><circle cx="1140.50" cy="643.50" r="1.7" fill="#f1f5f9" stroke="#3b82f6" stroke-width="1.7"/><circle cx="1156.65" cy="643.50" r="1.7" fill="#f1f5f9" stroke="#3b82f6" stroke-width="1.7"/><circle cx="1172.80" cy="643.50" r="1.7" fill="#f1f5f9" stroke="#3b82f6" stroke-width="1.7"/><path d="M785.20 643.50 C785.20 643.50 798.93 643.50 801.35 643.50 C803.77 643.50 815.08 643.50 817.50 643.50 C819.92 643.50 831.23 643.50 833.65 643.50 C836.07 643.50 847.38 643.50 849.80 643.50 C852.22 643.50 863.53 643.50 865.95 643.50 C868.37 643.50 879.68 643.50 882.10 643.50 C884.52 643.50 895.83 643.50 898.25 643.50 C900.67 643.50 911.98 643.50 914.40 643.50 C916.82 643.50 928.13 643.50 930.55 643.50 C932.97 643.50 944.28 643.50 946.70 643.50 C949.12 643.50 960.43 643.50 962.85 643.50 C965.27 643.50 976.58 643.50 979.00 643.50 C981.42 643.50 992.73 643.50 995.15 643.50 C997.57 643.50 1008.88 643.50 1011.30 643.50 C1013.72 643.50 1025.03 643.50 1027.45 643.50 C1029.87 643.50 1041.18 643.50 1043.60 643.50 C1046.02 643.50 1057.33 643.50 1059.75 643.50 C1062.17 643.50 1073.48 643.50 1075.90 643.50 C1078.32 643.50 1089.63 643.50 1092.05 643.50 C1094.47 643.50 1105.78 643.50 1108.20 643.50 C1110.62 643.50 1121.93 643.50 1124.35 643.50 C1126.77 643.50 1138.08 643.50 1140.50 643.50 C1142.92 643.50 1154.23 643.50 1156.65 643.50 C1159.07 643.50 1172.80 643.50 1172.80 643.50" fill="none" stroke="#10b981" stroke-width="2" stroke-linejoin="round"/><circle cx="785.20" cy="643.50" r="1.7" fill="#f1f5f9" stroke="#10b981" stroke-width="1.7"/><circle cx="801.35" cy="643.50" r="1.7" fill="#f1f5f9" stroke="#10b981" stroke-width="1.7"/><circle cx="817.50" cy="643.50" r="1.7" fill="#f1f5f9" stroke="#10b981" stroke-width="1.7"/><circle cx="833.65" cy="643.50" r="1.7" fill="#f1f5f9" stroke="#10b981" stroke-width="1.7"/><circle cx="849.80" cy="643.50" r="1.7" fill="#f1f5f9" stroke="#10b981" stroke-width="1.7"/><circle cx="865.95" cy="643.50" r="1.7" fill="#f1f5f9" stroke="#10b981" stroke-width="1.7"/><circle cx="882.10" cy="643.50" r="1.7" fill="#f1f5f9" stroke="#10b981" stroke-width="1.7"/><circle cx="898.25" cy="643.50" r="1.7" fill="#f1f5f9" stroke="#10b981" stroke-width="1.7"/><circle cx="914.40" cy="643.50" r="1.7" fill="#f1f5f9" stroke="#10b981" stroke-width="1.7"/><circle cx="930.55" cy="643.50" r="1.7" fill="#f1f5f9" stroke="#10b981" stroke-width="1.7"/><circle cx="946.70" cy="643.50" r="1.7" fill="#f1f5f9" stroke="#10b981" stroke-width="1.7"/><circle cx="962.85" cy="643.50" r="1.7" fill="#f1f5f9" stroke="#10b981" stroke-width="1.7"/><circle cx="979.00" cy="643.50" r="1.7" fill="#f1f5f9" stroke="#10b981" stroke-width="1.7"/><circle cx="995.15" cy="643.50" r="1.7" fill="#f1f5f9" stroke="#10b981" stroke-width="1.7"/><circle cx="1011.30" cy="643.50" r="1.7" fill="#f1f5f9" stroke="#10b981" stroke-width="1.7"/><circle cx="1027.45" cy="643.50" r="1.7" fill="#f1f5f9" stroke="#10b981" stroke-width="1.7"/><circle cx="1043.60" cy="643.50" r="1.7" fill="#f1f5f9" stroke="#10b981" stroke-width="1.7"/><circle cx="1059.75" cy="643.50" r="1.7" fill="#f1f5f9" stroke="#10b981" stroke-width="1.7"/><circle cx="1075.90" cy="643.50" r="1.7" fill="#f1f5f9" stroke="#10b981" stroke-width="1.7"/><circle cx="1092.05" cy="643.50" r="1.7" fill="#f1f5f9" stroke="#10b981" stroke-width="1.7"/><circle cx="1108.20" cy="643.50" r="1.7" fill="#f1f5f9" stroke="#10b981" stroke-width="1.7"/><circle cx="1124.35" cy="643.50" r="1.7" fill="#f1f5f9" stroke="#10b981" stroke-width="1.7"/><circle cx="1140.50" cy="643.50" r="1.7" fill="#f1f5f9" stroke="#10b981" stroke-width="1.7"/><circle cx="1156.65" cy="643.50" r="1.7" fill="#f1f5f9" stroke="#10b981" stroke-width="1.7"/><circle cx="1172.80" cy="643.50" r="1.7" fill="#f1f5f9" stroke="#10b981" stroke-width="1.7"/><path d="M785.20 643.50 C785.20 643.50 798.93 643.50 801.35 643.50 C803.77 643.50 815.08 643.50 817.50 643.50 C819.92 643.50 831.23 643.50 833.65 643.50 C836.07 643.50 847.38 643.50 849.80 643.50 C852.22 643.50 863.53 643.50 865.95 643.50 C868.37 643.50 879.68 643.50 882.10 643.50 C884.52 643.50 895.83 643.50 898.25 643.50 C900.67 643.50 911.98 643.50 914.40 643.50 C916.82 643.50 928.13 643.50 930.55 643.50 C932.97 643.50 944.28 643.50 946.70 643.50 C949.12 643.50 960.43 643.50 962.85 643.50 C965.27 643.50 976.58 643.50 979.00 643.50 C981.42 643.50 992.73 643.50 995.15 643.50 C997.57 643.50 1008.88 643.50 1011.30 643.50 C1013.72 643.50 1025.03 643.50 1027.45 643.50 C1029.87 643.50 1041.18 643.50 1043.60 643.50 C1046.02 643.50 1057.33 643.50 1059.75 643.50 C1062.17 643.50 1073.48 643.50 1075.90 643.50 C1078.32 643.50 1089.63 643.50 1092.05 643.50 C1094.47 643.50 1105.78 643.50 1108.20 643.50 C1110.62 643.50 1121.93 643.50 1124.35 643.50 C1126.77 643.50 1138.08 643.50 1140.50 643.50 C1142.92 643.50 1154.23 643.50 1156.65 643.50 C1159.07 643.50 1172.80 643.50 1172.80 643.50" fill="none" stroke="#f59e0b" stroke-width="2" stroke-linejoin="round"/><circle cx="785.20" cy="643.50" r="1.7" fill="#f1f5f9" stroke="#f59e0b" stroke-width="1.7"/><circle cx="801.35" cy="643.50" r="1.7" fill="#f1f5f9" stroke="#f59e0b" stroke-width="1.7"/><circle cx="817.50" cy="643.50" r="1.7" fill="#f1f5f9" stroke="#f59e0b" stroke-width="1.7"/><circle cx="833.65" cy="643.50" r="1.7" fill="#f1f5f9" stroke="#f59e0b" stroke-width="1.7"/><circle cx="849.80" cy="643.50" r="1.7" fill="#f1f5f9" stroke="#f59e0b" stroke-width="1.7"/><circle cx="865.95" cy="643.50" r="1.7" fill="#f1f5f9" stroke="#f59e0b" stroke-width="1.7"/><circle cx="882.10" cy="643.50" r="1.7" fill="#f1f5f9" stroke="#f59e0b" stroke-width="1.7"/><circle cx="898.25" cy="643.50" r="1.7" fill="#f1f5f9" stroke="#f59e0b" stroke-width="1.7"/><circle cx="914.40" cy="643.50" r="1.7" fill="#f1f5f9" stroke="#f59e0b" stroke-width="1.7"/><circle cx="930.55" cy="643.50" r="1.7" fill="#f1f5f9" stroke="#f59e0b" stroke-width="1.7"/><circle cx="946.70" cy="643.50" r="1.7" fill="#f1f5f9" stroke="#f59e0b" stroke-width="1.7"/><circle cx="962.85" cy="643.50" r="1.7" fill="#f1f5f9" stroke="#f59e0b" stroke-width="1.7"/><circle cx="979.00" cy="643.50" r="1.7" fill="#f1f5f9" stroke="#f59e0b" stroke-width="1.7"/><circle cx="995.15" cy="643.50" r="1.7" fill="#f1f5f9" stroke="#f59e0b" stroke-width="1.7"/><circle cx="1011.30" cy="643.50" r="1.7" fill="#f1f5f9" stroke="#f59e0b" stroke-width="1.7"/><circle cx="1027.45" cy="643.50" r="1.7" fill="#f1f5f9" stroke="#f59e0b" stroke-width="1.7"/><circle cx="1043.60" cy="643.50" r="1.7" fill="#f1f5f9" stroke="#f59e0b" stroke-width="1.7"/><circle cx="1059.75" cy="643.50" r="1.7" fill="#f1f5f9" stroke="#f59e0b" stroke-width="1.7"/><circle cx="1075.90" cy="643.50" r="1.7" fill="#f1f5f9" stroke="#f59e0b" stroke-width="1.7"/><circle cx="1092.05" cy="643.50" r="1.7" fill="#f1f5f9" stroke="#f59e0b" stroke-width="1.7"/><circle cx="1108.20" cy="643.50" r="1.7" fill="#f1f5f9" stroke="#f59e0b" stroke-width="1.7"/><circle cx="1124.35" cy="643.50" r="1.7" fill="#f1f5f9" stroke="#f59e0b" stroke-width="1.7"/><circle cx="1140.50" cy="643.50" r="1.7" fill="#f1f5f9" stroke="#f59e0b" stroke-width="1.7"/><circle cx="1156.65" cy="643.50" r="1.7" fill="#f1f5f9" stroke="#f59e0b" stroke-width="1.7"/><circle cx="1172.80" cy="643.50" r="1.7" fill="#f1f5f9" stroke="#f59e0b" stroke-width="1.7"/><path d="M785.20 643.50 C785.20 643.50 798.93 643.50 801.35 643.50 C803.77 643.50 815.08 643.50 817.50 643.50 C819.92 643.50 831.23 643.50 833.65 643.50 C836.07 643.50 847.38 643.50 849.80 643.50 C852.22 643.50 863.53 643.50 865.95 643.50 C868.37 643.50 879.68 643.50 882.10 643.50 C884.52 643.50 895.83 643.50 898.25 643.50 C900.67 643.50 911.98 643.50 914.40 643.50 C916.82 643.50 928.13 643.50 930.55 643.50 C932.97 643.50 944.28 643.50 946.70 643.50 C949.12 643.50 960.43 643.50 962.85 643.50 C965.27 643.50 976.58 643.50 979.00 643.50 C981.42 643.50 992.73 643.50 995.15 643.50 C997.57 643.50 1008.88 643.50 1011.30 643.50 C1013.72 643.50 1025.03 643.50 1027.45 643.50 C1029.87 643.50 1041.18 643.50 1043.60 643.50 C1046.02 643.50 1057.33 643.50 1059.75 643.50 C1062.17 643.50 1073.48 643.50 1075.90 643.50 C1078.32 643.50 1089.63 643.50 1092.05 643.50 C1094.47 643.50 1105.78 643.50 1108.20 643.50 C1110.62 643.50 1121.93 643.50 1124.35 643.50 C1126.77 643.50 1138.08 643.50 1140.50 643.50 C1142.92 643.50 1154.23 643.50 1156.65 643.50 C1159.07 643.50 1172.80 643.50 1172.80 643.50" fill="none" stroke="#ec4899" stroke-width="2" stroke-linejoin="round"/><circle cx="785.20" cy="643.50" r="1.7" fill="#f1f5f9" stroke="#ec4899" stroke-width="1.7"/><circle cx="801.35" cy="643.50" r="1.7" fill="#f1f5f9" stroke="#ec4899" stroke-width="1.7"/><circle cx="817.50" cy="643.50" r="1.7" fill="#f1f5f9" stroke="#ec4899" stroke-width="1.7"/><circle cx="833.65" cy="643.50" r="1.7" fill="#f1f5f9" stroke="#ec4899" stroke-width="1.7"/><circle cx="849.80" cy="643.50" r="1.7" fill="#f1f5f9" stroke="#ec4899" stroke-width="1.7"/><circle cx="865.95" cy="643.50" r="1.7" fill="#f1f5f9" stroke="#ec4899" stroke-width="1.7"/><circle cx="882.10" cy="643.50" r="1.7" fill="#f1f5f9" stroke="#ec4899" stroke-width="1.7"/><circle cx="898.25" cy="643.50" r="1.7" fill="#f1f5f9" stroke="#ec4899" stroke-width="1.7"/><circle cx="914.40" cy="643.50" r="1.7" fill="#f1f5f9" stroke="#ec4899" stroke-width="1.7"/><circle cx="930.55" cy="643.50" r="1.7" fill="#f1f5f9" stroke="#ec4899" stroke-width="1.7"/><circle cx="946.70" cy="643.50" r="1.7" fill="#f1f5f9" stroke="#ec4899" stroke-width="1.7"/><circle cx="962.85" cy="643.50" r="1.7" fill="#f1f5f9" stroke="#ec4899" stroke-width="1.7"/><circle cx="979.00" cy="643.50" r="1.7" fill="#f1f5f9" stroke="#ec4899" stroke-width="1.7"/><circle cx="995.15" cy="643.50" r="1.7" fill="#f1f5f9" stroke="#ec4899" stroke-width="1.7"/><circle cx="1011.30" cy="643.50" r="1.7" fill="#f1f5f9" stroke="#ec4899" stroke-width="1.7"/><circle cx="1027.45" cy="643.50" r="1.7" fill="#f1f5f9" stroke="#ec4899" stroke-width="1.7"/><circle cx="1043.60" cy="643.50" r="1.7" fill="#f1f5f9" stroke="#ec4899" stroke-width="1.7"/><circle cx="1059.75" cy="643.50" r="1.7" fill="#f1f5f9" stroke="#ec4899" stroke-width="1.7"/><circle cx="1075.90" cy="643.50" r="1.7" fill="#f1f5f9" stroke="#ec4899" stroke-width="1.7"/><circle cx="1092.05" cy="643.50" r="1.7" fill="#f1f5f9" stroke="#ec4899" stroke-width="1.7"/><circle cx="1108.20" cy="643.50" r="1.7" fill="#f1f5f9" stroke="#ec4899" stroke-width="1.7"/><circle cx="1124.35" cy="643.50" r="1.7" fill="#f1f5f9" stroke="#ec4899" stroke-width="1.7"/><circle cx="1140.50" cy="643.50" r="1.7" fill="#f1f5f9" stroke="#ec4899" stroke-width="1.7"/><circle cx="1156.65" cy="643.50" r="1.7" fill="#f1f5f9" stroke="#ec4899" stroke-width="1.7"/><circle cx="1172.80" cy="643.50" r="1.7" fill="#f1f5f9" stroke="#ec4899" stroke-width="1.7"/><path d="M785.20 592.36 C785.20 592.36 797.61 545.80 801.35 539.39 C802.45 537.51 815.08 537.06 817.50 537.06 C819.92 537.06 831.21 539.50 833.65 539.50 C836.06 539.50 847.38 539.50 849.80 539.50 C852.22 539.50 863.53 539.50 865.95 539.50 C868.37 539.50 879.68 539.50 882.10 539.50 C884.52 539.50 895.83 539.50 898.25 539.50 C900.67 539.50 911.98 540.31 914.40 540.31 C916.82 540.31 928.13 539.39 930.55 539.39 C932.97 539.39 944.28 539.39 946.70 539.39 C949.12 539.39 960.43 539.39 962.85 539.39 C965.27 539.39 976.58 539.39 979.00 539.39 C981.42 539.39 992.73 539.39 995.15 539.39 C997.57 539.39 1008.88 539.39 1011.30 539.39 C1013.72 539.39 1025.03 539.39 1027.45 539.39 C1029.87 539.39 1041.18 539.39 1043.60 539.39 C1046.02 539.39 1057.33 539.39 1059.75 539.39 C1062.17 539.39 1073.48 539.39 1075.90 539.39 C1078.32 539.39 1089.63 539.50 1092.05 539.50 C1094.47 539.50 1105.78 539.50 1108.20 539.50 C1110.62 539.50 1121.93 539.50 1124.35 539.50 C1126.77 539.50 1138.08 539.50 1140.50 539.50 C1142.92 539.50 1155.53 539.39 1156.65 539.39 C1160.37 539.39 1172.80 590.53 1172.80 590.53" fill="none" stroke="#8b5cf6" stroke-width="2" stroke-linejoin="round"/><circle cx="785.20" cy="592.36" r="1.7" fill="#f1f5f9" stroke="#8b5cf6" stroke-width="1.7"/><circle cx="801.35" cy="539.39" r="1.7" fill="#f1f5f9" stroke="#8b5cf6" stroke-width="1.7"/><circle cx="817.50" cy="537.06" r="1.7" fill="#f1f5f9" stroke="#8b5cf6" stroke-width="1.7"/><circle cx="833.65" cy="539.50" r="1.7" fill="#f1f5f9" stroke="#8b5cf6" stroke-width="1.7"/><circle cx="849.80" cy="539.50" r="1.7" fill="#f1f5f9" stroke="#8b5cf6" stroke-width="1.7"/><circle cx="865.95" cy="539.50" r="1.7" fill="#f1f5f9" stroke="#8b5cf6" stroke-width="1.7"/><circle cx="882.10" cy="539.50" r="1.7" fill="#f1f5f9" stroke="#8b5cf6" stroke-width="1.7"/><circle cx="898.25" cy="539.50" r="1.7" fill="#f1f5f9" stroke="#8b5cf6" stroke-width="1.7"/><circle cx="914.40" cy="540.31" r="1.7" fill="#f1f5f9" stroke="#8b5cf6" stroke-width="1.7"/><circle cx="930.55" cy="539.39" r="1.7" fill="#f1f5f9" stroke="#8b5cf6" stroke-width="1.7"/><circle cx="946.70" cy="539.39" r="1.7" fill="#f1f5f9" stroke="#8b5cf6" stroke-width="1.7"/><circle cx="962.85" cy="539.39" r="1.7" fill="#f1f5f9" stroke="#8b5cf6" stroke-width="1.7"/><circle cx="979.00" cy="539.39" r="1.7" fill="#f1f5f9" stroke="#8b5cf6" stroke-width="1.7"/><circle cx="995.15" cy="539.39" r="1.7" fill="#f1f5f9" stroke="#8b5cf6" stroke-width="1.7"/><circle cx="1011.30" cy="539.39" r="1.7" fill="#f1f5f9" stroke="#8b5cf6" stroke-width="1.7"/><circle cx="1027.45" cy="539.39" r="1.7" fill="#f1f5f9" stroke="#8b5cf6" stroke-width="1.7"/><circle cx="1043.60" cy="539.39" r="1.7" fill="#f1f5f9" stroke="#8b5cf6" stroke-width="1.7"/><circle cx="1059.75" cy="539.39" r="1.7" fill="#f1f5f9" stroke="#8b5cf6" stroke-width="1.7"/><circle cx="1075.90" cy="539.39" r="1.7" fill="#f1f5f9" stroke="#8b5cf6" stroke-width="1.7"/><circle cx="1092.05" cy="539.50" r="1.7" fill="#f1f5f9" stroke="#8b5cf6" stroke-width="1.7"/><circle cx="1108.20" cy="539.50" r="1.7" fill="#f1f5f9" stroke="#8b5cf6" stroke-width="1.7"/><circle cx="1124.35" cy="539.50" r="1.7" fill="#f1f5f9" stroke="#8b5cf6" stroke-width="1.7"/><circle cx="1140.50" cy="539.50" r="1.7" fill="#f1f5f9" stroke="#8b5cf6" stroke-width="1.7"/><circle cx="1156.65" cy="539.39" r="1.7" fill="#f1f5f9" stroke="#8b5cf6" stroke-width="1.7"/><circle cx="1172.80" cy="590.53" r="1.7" fill="#f1f5f9" stroke="#8b5cf6" stroke-width="1.7"/><path d="M785.20 643.50 C785.20 643.50 798.93 643.50 801.35 643.50 C803.77 643.50 815.08 643.50 817.50 643.50 C819.92 643.50 831.23 643.50 833.65 643.50 C836.07 643.50 847.38 643.50 849.80 643.50 C852.22 643.50 863.53 643.50 865.95 643.50 C868.37 643.50 879.68 643.50 882.10 643.50 C884.52 643.50 895.83 643.50 898.25 643.50 C900.67 643.50 911.98 643.50 914.40 643.50 C916.82 643.50 928.13 643.50 930.55 643.50 C932.97 643.50 944.28 643.50 946.70 643.50 C949.12 643.50 960.43 643.50 962.85 643.50 C965.27 643.50 976.58 643.50 979.00 643.50 C981.42 643.50 992.73 643.50 995.15 643.50 C997.57 643.50 1008.88 643.50 1011.30 643.50 C1013.72 643.50 1025.03 643.50 1027.45 643.50 C1029.87 643.50 1041.18 643.50 1043.60 643.50 C1046.02 643.50 1057.33 643.50 1059.75 643.50 C1062.17 643.50 1073.48 643.50 1075.90 643.50 C1078.32 643.50 1089.63 643.50 1092.05 643.50 C1094.47 643.50 1105.78 643.50 1108.20 643.50 C1110.62 643.50 1121.93 643.50 1124.35 643.50 C1126.77 643.50 1138.08 643.50 1140.50 643.50 C1142.92 643.50 1154.23 643.50 1156.65 643.50 C1159.07 643.50 1172.80 643.50 1172.80 643.50" fill="none" stroke="#06b6d4" stroke-width="2" stroke-linejoin="round"/><circle cx="785.20" cy="643.50" r="1.7" fill="#f1f5f9" stroke="#06b6d4" stroke-width="1.7"/><circle cx="801.35" cy="643.50" r="1.7" fill="#f1f5f9" stroke="#06b6d4" stroke-width="1.7"/><circle cx="817.50" cy="643.50" r="1.7" fill="#f1f5f9" stroke="#06b6d4" stroke-width="1.7"/><circle cx="833.65" cy="643.50" r="1.7" fill="#f1f5f9" stroke="#06b6d4" stroke-width="1.7"/><circle cx="849.80" cy="643.50" r="1.7" fill="#f1f5f9" stroke="#06b6d4" stroke-width="1.7"/><circle cx="865.95" cy="643.50" r="1.7" fill="#f1f5f9" stroke="#06b6d4" stroke-width="1.7"/><circle cx="882.10" cy="643.50" r="1.7" fill="#f1f5f9" stroke="#06b6d4" stroke-width="1.7"/><circle cx="898.25" cy="643.50" r="1.7" fill="#f1f5f9" stroke="#06b6d4" stroke-width="1.7"/><circle cx="914.40" cy="643.50" r="1.7" fill="#f1f5f9" stroke="#06b6d4" stroke-width="1.7"/><circle cx="930.55" cy="643.50" r="1.7" fill="#f1f5f9" stroke="#06b6d4" stroke-width="1.7"/><circle cx="946.70" cy="643.50" r="1.7" fill="#f1f5f9" stroke="#06b6d4" stroke-width="1.7"/><circle cx="962.85" cy="643.50" r="1.7" fill="#f1f5f9" stroke="#06b6d4" stroke-width="1.7"/><circle cx="979.00" cy="643.50" r="1.7" fill="#f1f5f9" stroke="#06b6d4" stroke-width="1.7"/><circle cx="995.15" cy="643.50" r="1.7" fill="#f1f5f9" stroke="#06b6d4" stroke-width="1.7"/><circle cx="1011.30" cy="643.50" r="1.7" fill="#f1f5f9" stroke="#06b6d4" stroke-width="1.7"/><circle cx="1027.45" cy="643.50" r="1.7" fill="#f1f5f9" stroke="#06b6d4" stroke-width="1.7"/><circle cx="1043.60" cy="643.50" r="1.7" fill="#f1f5f9" stroke="#06b6d4" stroke-width="1.7"/><circle cx="1059.75" cy="643.50" r="1.7" fill="#f1f5f9" stroke="#06b6d4" stroke-width="1.7"/><circle cx="1075.90" cy="643.50" r="1.7" fill="#f1f5f9" stroke="#06b6d4" stroke-width="1.7"/><circle cx="1092.05" cy="643.50" r="1.7" fill="#f1f5f9" stroke="#06b6d4" stroke-width="1.7"/><circle cx="1108.20" cy="643.50" r="1.7" fill="#f1f5f9" stroke="#06b6d4" stroke-width="1.7"/><circle cx="1124.35" cy="643.50" r="1.7" fill="#f1f5f9" stroke="#06b6d4" stroke-width="1.7"/><circle cx="1140.50" cy="643.50" r="1.7" fill="#f1f5f9" stroke="#06b6d4" stroke-width="1.7"/><circle cx="1156.65" cy="643.50" r="1.7" fill="#f1f5f9" stroke="#06b6d4" stroke-width="1.7"/><circle cx="1172.80" cy="643.50" r="1.7" fill="#f1f5f9" stroke="#06b6d4" stroke-width="1.7"/><line x1="767.5" x2="792.5" y1="500.3" y2="500.3" stroke="#3b82f6" stroke-width="2"/><circle cx="780.0" cy="500.3" r="5.2" fill="#ffffff" stroke="#3b82f6" stroke-width="2"/><text x="797.5" y="503.6" font-size="12" fill="#ffffff">call</text><line x1="827.0" x2="852.0" y1="500.3" y2="500.3" stroke="#10b981" stroke-width="2"/><circle cx="839.5" cy="500.3" r="5.2" fill="#ffffff" stroke="#10b981" stroke-width="2"/><text x="857.0" y="503.6" font-size="12" fill="#ffffff">event</text><line x1="897.0" x2="922.0" y1="500.3" y2="500.3" stroke="#8b5cf6" stroke-width="2"/><circle cx="909.5" cy="500.3" r="5.2" fill="#ffffff" stroke="#8b5cf6" stroke-width="2"/><text x="927.0" y="503.6" font-size="12" fill="#ffffff">schedule</text><line x1="986.0" x2="1011.0" y1="500.3" y2="500.3" stroke="#f59e0b" stroke-width="2"/><circle cx="998.5" cy="500.3" r="5.2" fill="#ffffff" stroke="#f59e0b" stroke-width="2"/><text x="1016.0" y="503.6" font-size="12" fill="#ffffff">run</text><line x1="1044.5" x2="1069.5" y1="500.3" y2="500.3" stroke="#ec4899" stroke-width="2"/><circle cx="1057.0" cy="500.3" r="5.2" fill="#ffffff" stroke="#ec4899" stroke-width="2"/><text x="1074.5" y="503.6" font-size="12" fill="#ffffff">eval</text><line x1="1107.3" x2="1132.3" y1="500.3" y2="500.3" stroke="#06b6d4" stroke-width="2"/><circle cx="1119.8" cy="500.3" r="5.2" fill="#ffffff" stroke="#06b6d4" stroke-width="2"/><text x="1137.5" y="503.6" font-size="12" fill="#ffffff">repl</text></g></svg>
</body></html>
